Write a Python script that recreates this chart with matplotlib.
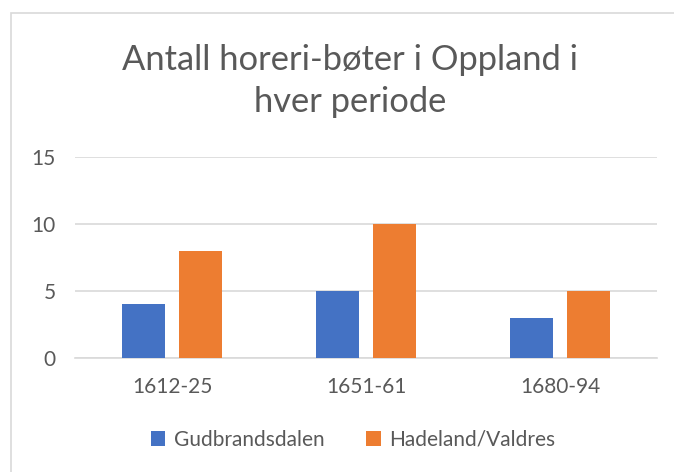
import matplotlib
matplotlib.use("Agg")
import matplotlib.pyplot as plt
import numpy as np
from matplotlib.patches import Rectangle

perioder = ["1612-25", "1651-61", "1680-94"]
gudbrandsdalen = [4, 5, 3]
hadeland_valdres = [8, 10, 5]
serier = ["Gudbrandsdalen", "Hadeland/Valdres"]
y_ticks = [0, 5, 10, 15]

BLAA = "#4472C4"
ORANSJE = "#ED7D31"
TEKST = "#595959"
GRID = "#D9D9D9"

plt.rcParams["font.family"] = ["Lato", "DejaVu Sans"]

fig = plt.figure(figsize=(6.74, 4.72), dpi=100)
fig.patches.append(Rectangle((11 / 674, -0.1), 1.2, (472 - 13) / 472 + 0.1,
                             transform=fig.transFigure, fill=False,
                             edgecolor=GRID, linewidth=1.2))

ax = fig.add_axes([75 / 674, (472 - 358) / 472, 582 / 674, 201 / 472])
x = np.arange(len(perioder))
w = 0.222
ax.bar(x - 0.145, gudbrandsdalen, w, color=BLAA, label=serier[0], zorder=3)
ax.bar(x + 0.145, hadeland_valdres, w, color=ORANSJE, label=serier[1], zorder=3)

ax.set_xlim(-0.5, 2.5)
ax.set_ylim(0, 15)
ax.set_yticks(y_ticks)
ax.set_xticks(x)
ax.set_xticklabels(perioder)
ax.tick_params(length=0, labelsize=15, colors=TEKST)
ax.tick_params(axis="y", pad=14)
ax.tick_params(axis="x", pad=14)
ax.grid(axis="y", color=GRID, linewidth=1.2, zorder=0)
for s in ["top", "right", "left"]:
    ax.spines[s].set_visible(False)
ax.spines["bottom"].set_color(GRID)
ax.spines["bottom"].set_linewidth(1.2)

fig.text(350 / 674, 1 - 81 / 472, "Antall horeri-bøter i Oppland i\nhver periode",
         ha="center", va="center", fontsize=24.8, color=TEKST, linespacing=1.42)

fig.legend(loc="center", bbox_to_anchor=(353 / 674, 1 - 440 / 472), ncol=2,
           frameon=False, fontsize=15, labelcolor=TEKST, handlelength=0.7,
           handleheight=0.7, handletextpad=0.4, columnspacing=2.0)

fig.savefig("out.png", dpi=100)
